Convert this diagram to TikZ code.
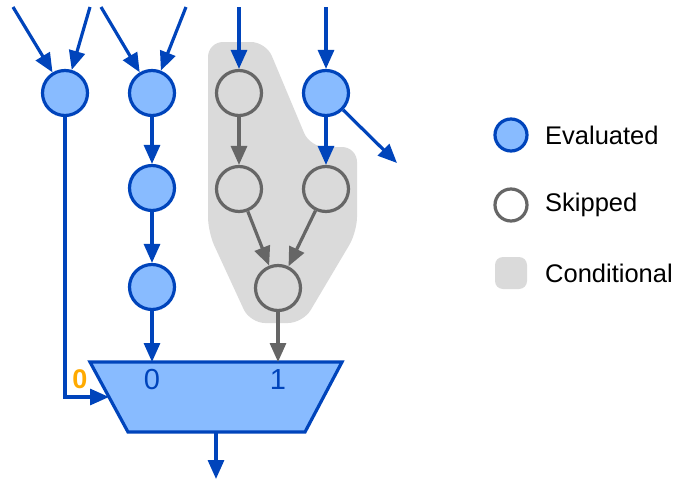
\documentclass[tikz,border=0pt]{standalone}
\usepackage{fontspec}
\setmainfont{Liberation Sans}
\usetikzlibrary{arrows.meta}
\definecolor{evalfill}{HTML}{88BBFF}
\definecolor{evalline}{HTML}{0044BB}
\definecolor{skipline}{HTML}{666666}
\definecolor{condfill}{HTML}{DADADA}
\definecolor{selorange}{HTML}{FFAA00}
\tikzset{
  evalnode/.style={circle, draw=evalline, fill=evalfill, line width=3.2pt, minimum size=45pt, inner sep=0pt},
  skipnode/.style={circle, draw=skipline, fill=none, line width=3.2pt, minimum size=45pt, inner sep=0pt},
  bluearrow/.style={draw=evalline, line width=3.2pt, -{Triangle[length=19pt,width=16pt]}},
  grayarrow/.style={draw=skipline, line width=3.2pt, -{Triangle[length=19pt,width=16pt]}},
  bigtext/.style={font=\fontsize{29}{33}\selectfont, inner sep=0pt},
  legendtext/.style={font=\fontsize{25.5}{30}\selectfont, inner sep=0pt, anchor=west, text=black},
}
\begin{document}
\begin{tikzpicture}[x=1pt, y=-1pt]
\useasboundingbox (0,0) rectangle (686,482);

% region of conditionally evaluated nodes
\fill[condfill, rounded corners=15pt]
  (208,42) -- (266,42) -- (310,147) -- (357,147) -- (357,232)
  -- (303,323) -- (250,323) -- (208,232) -- cycle;

% graph nodes
\node[evalnode] (A)  at (65,93)  {};
\node[evalnode] (B)  at (152,93) {};
\node[evalnode] (B2) at (152,188) {};
\node[evalnode] (B3) at (152,287) {};
\node[skipnode] (C)  at (239,93) {};
\node[evalnode] (D)  at (326,93) {};
\node[skipnode] (C2) at (239,189) {};
\node[skipnode] (D2) at (326,189) {};
\node[skipnode] (E)  at (278,288) {};

% multiplexer
\coordinate (muxTL) at (90,362);
\coordinate (muxTR) at (342,362);
\coordinate (muxBR) at (305,432);
\coordinate (muxBL) at (128,432);
\draw[evalline, fill=evalfill, line width=3.2pt, line join=miter]
  (muxTL) -- (muxTR) -- (muxBR) -- (muxBL) -- cycle;
\coordinate (mux0) at (152,362);
\coordinate (mux1) at (278,362);
\coordinate (muxsel) at (109,397);
\coordinate (muxout) at (216,432);
\node[bigtext, text=evalline] (lab0) at (152,380) {0};
\node[bigtext, text=evalline] (lab1) at (278,380) {1};
\node[inner sep=0pt, text=selorange, font=\fontsize{27}{31}\selectfont\bfseries] (sel) at (80,379) {0};

% free ends of incoming and outgoing edges
\coordinate (inA1) at (13,7);
\coordinate (inA2) at (90,7);
\coordinate (inB1) at (101,7);
\coordinate (inB2) at (186,7);
\coordinate (inC)  at (239,7);
\coordinate (inD)  at (326,7);
\coordinate (outD) at (397,163);
\coordinate (out)  at (216,479);

% edges
\draw[bluearrow] (inA1) -- (A);
\draw[bluearrow] (inA2) -- (A);
\draw[bluearrow] (inB1) -- (B);
\draw[bluearrow] (inB2) -- (B);
\draw[bluearrow] (inC) -- (C);
\draw[bluearrow] (inD) -- (D);
\draw[bluearrow] (B) -- (B2);
\draw[bluearrow] (B2) -- (B3);
\draw[bluearrow] (B3) -- (mux0);
\draw[bluearrow] (D) -- (D2);
\draw[bluearrow] (D) -- (outD);
\draw[grayarrow] (C) -- (C2);
\draw[grayarrow] (C2) -- (E);
\draw[grayarrow] (D2) -- (E);
\draw[grayarrow] (E) -- (mux1);
\draw[bluearrow] (A.south) |- (muxsel);
\draw[bluearrow] (muxout) -- (out);

% legend
\node[evalnode, minimum size=32pt] (legE) at (511,135) {};
\node[skipnode, minimum size=32pt] (legS) at (511,205) {};
\node[fill=condfill, rounded corners=8pt, minimum size=32pt, inner sep=0pt] (legC) at (511,273) {};
\node[legendtext] (txtE) at (545,135) {Evaluated};
\node[legendtext] (txtS) at (545,205) {Skipped};
\node[legendtext] (txtC) at (545,273) {Conditional};
\end{tikzpicture}
\end{document}
